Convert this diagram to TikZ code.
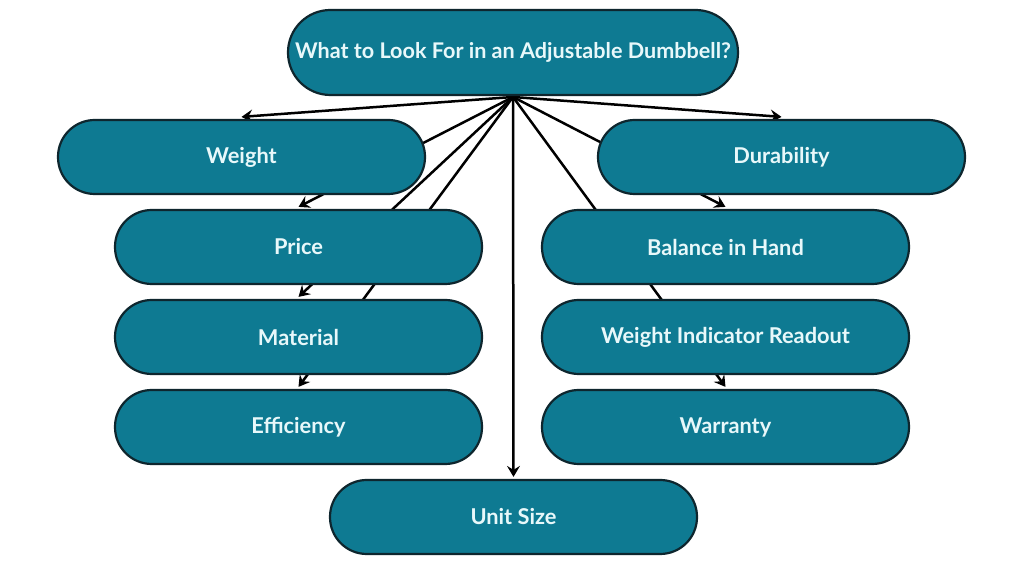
\documentclass[tikz,border=0pt]{standalone}
\usepackage{fontspec}
\setmainfont{Lato}
\usetikzlibrary{arrows.meta,backgrounds}
\definecolor{tealfill}{RGB}{14,122,146}
\definecolor{edgeline}{RGB}{14,38,46}
\definecolor{txt}{RGB}{232,248,250}
\tikzset{
  pill/.style={draw=edgeline,line width=1.1pt,fill=tealfill,text=txt,
    font=\fontsize{10.9}{13}\selectfont\bfseries,
    minimum width=183.5pt,minimum height=37pt,inner sep=0pt,rounded corners=18.4pt},
  toppill/.style={pill,minimum width=225pt,minimum height=42.5pt,rounded corners=21.2pt,
    font=\fontsize{10.8}{13}\selectfont\bfseries},
  conn/.style={line width=1.25pt,black,-{Stealth[length=5.5pt,width=6.5pt,inset=2pt]}}
}
\begin{document}
\begin{tikzpicture}[x=0.5pt,y=-0.5pt]
\useasboundingbox (0,0) rectangle (1024,576);
\node[toppill] (top) at (513,52.5) {What to Look For in an Adjustable Dumbbell?};
\node[pill] (weight) at (241.5,157) {Weight};
\node[pill] (dur) at (781.5,157) {Durability};
\node[pill] (price) at (298.5,247) {Price};
\node[pill] (bal) at (725.5,247) {Balance in Hand};
\node[pill] (mat) at (298.5,337) {Material};
\node[pill] (wir) at (725.5,337) {Weight Indicator Readout};
\node[pill] (eff) at (298.5,427) {Efficiency};
\node[pill] (war) at (725.5,427) {Warranty};
\node[pill] (unit) at (513.5,517) {Unit Size};
\coordinate (hub) at (513,97);
\begin{scope}[on background layer]
\fill[white] (0,0) rectangle (1024,576);
\draw[conn] (hub) -- ([yshift=1pt]weight.north);
\draw[conn] (hub) -- ([yshift=1pt]dur.north);
\draw[conn] (hub) -- ([yshift=1pt]price.north);
\draw[conn] (hub) -- ([yshift=1pt]mat.north);
\draw[conn] (hub) -- ([yshift=1pt]eff.north);
\draw[conn] (hub) -- ([yshift=1pt]bal.north);
\draw[conn] (hub) -- ([yshift=1pt]war.north);
\draw[conn] (hub) -- ([yshift=1pt]unit.north);
\end{scope}
\end{tikzpicture}
\end{document}
